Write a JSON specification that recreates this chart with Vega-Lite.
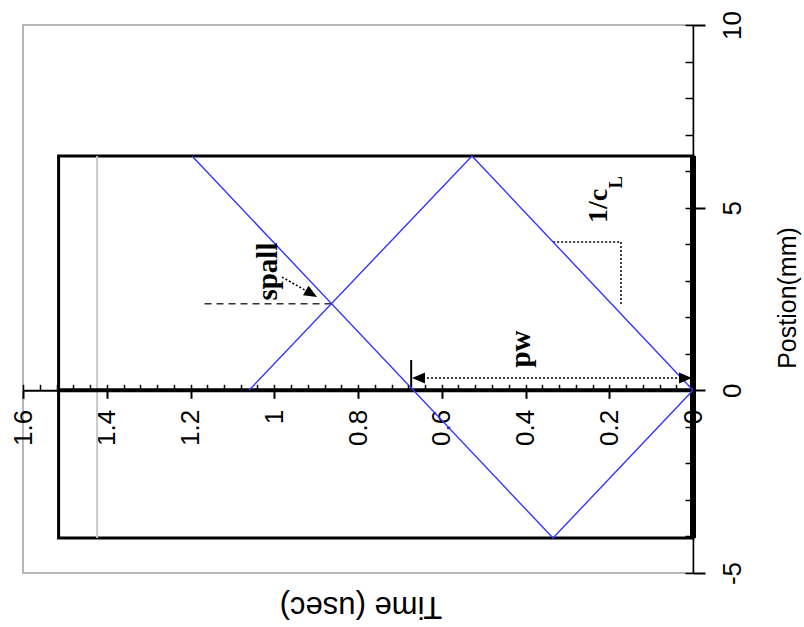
{
  "$schema": "https://vega.github.io/schema/vega-lite/v6.json",
  "width": 670,
  "height": 548,
  "autosize": {"type": "none"},
  "padding": {"left": 23, "top": 25, "right": 111, "bottom": 54},
  "background": "white",
  "config": {
    "view": {"stroke": "#a0a0a0", "strokeWidth": 1.5},
    "axis": {"grid": false, "labelColor": "black", "titleColor": "black", "tickColor": "black", "domainColor": "black"}
  },
  "datasets": {
    "waves": [
      {"wave": "a", "i": 0, "t": 0, "p": 0},
      {"wave": "a", "i": 1, "t": 0.3343, "p": -4.043},
      {"wave": "a", "i": 2, "t": 1.1964, "p": 6.414},
      {"wave": "b", "i": 0, "t": 0, "p": 0},
      {"wave": "b", "i": 1, "t": 0.5278, "p": 6.414},
      {"wave": "b", "i": 2, "t": 1.0603, "p": 0}
    ],
    "plate": [
      {"t": 0, "t2": 1.515, "p": -4.043, "p2": 6.414}
    ],
    "segments": [
      {"kind": "base", "t": 0, "p": 0, "t2": 1.515, "p2": 0},
      {"kind": "face", "t": 0, "p": -4.043, "t2": 0, "p2": 6.414},
      {"kind": "window", "t": 1.423, "p": -4.043, "t2": 1.423, "p2": 6.414},
      {"kind": "spall", "t": 0.8632, "p": 2.373, "t2": 1.17, "p2": 2.373},
      {"kind": "pointer", "t": 0.9815, "p": 3.101, "t2": 0.9113, "p2": 2.642},
      {"kind": "pw", "t": 0.0, "p": 0.337, "t2": 0.66, "p2": 0.337},
      {"kind": "stop", "t": 0.673, "p": 0, "t2": 0.673, "p2": 0.83},
      {"kind": "slope", "t": 0.334, "p": 4.06, "t2": 0.172, "p2": 4.06},
      {"kind": "slope", "t": 0.172, "p": 4.06, "t2": 0.172, "p2": 2.33}
    ],
    "heads": [
      {"t": 0.6555, "p": 0.337, "dir": 180},
      {"t": 0.0179, "p": 0.337, "dir": 0},
      {"t": 0.9113, "p": 2.642, "dir": 30}
    ],
    "notes": [
      {"label": "spall", "t": 0.9934, "p": 3.252},
      {"label": "pw", "t": 0.389, "p": 1.131},
      {"label": "1/c", "t": 0.2054, "p": 4.58},
      {"label": "L", "t": 0.1696, "p": 5.53}
    ]
  },
  "encoding": {
    "x": {"field": "t", "type": "quantitative", "scale": {"domain": [0, 1.6], "reverse": true, "nice": false, "zero": false}, "axis": null},
    "y": {"field": "p", "type": "quantitative", "scale": {"domain": [-5, 10], "nice": false, "zero": false}, "axis": null}
  },
  "resolve": {"axis": {"x": "independent", "y": "independent"}},
  "layer": [
    {
      "data": {"name": "plate"},
      "mark": {"type": "rect", "fill": "white", "fillOpacity": 0, "stroke": "black", "strokeWidth": 3},
      "encoding": {
        "x": {
          "field": "t", "type": "quantitative",
          "scale": {"domain": [0, 1.6], "reverse": true, "nice": false, "zero": false},
          "axis": {
            "orient": "bottom", "offset": -182.7,
            "values": [0, 0.2, 0.4, 0.6, 0.8, 1, 1.2, 1.4, 1.6],
            "format": "~g",
            "domainWidth": 2, "tickWidth": 2, "tickSize": 8,
            "labelAngle": 270, "labelAlign": "right", "labelBaseline": "middle",
            "labelPadding": 11, "labelFlush": false, "labelOverlap": false, "labelBound": false,
            "labelFont": "Liberation Sans", "labelFontSize": 26,
            "title": "Time (usec)", "titleAngle": 180, "titleX": 337.5, "titleY": 215,
            "titleAlign": "center", "titleBaseline": "middle",
            "titleFont": "Liberation Sans", "titleFontSize": 31, "titleFontWeight": "normal"
          }
        },
        "x2": {"field": "t2"},
        "y": {
          "field": "p", "type": "quantitative",
          "scale": {"domain": [-5, 10], "nice": false, "zero": false},
          "axis": {
            "orient": "right",
            "values": [-5, 0, 5, 10],
            "format": "d",
            "labelExpr": "replace(datum.label, '\u2212', '-')",
            "domainWidth": 1.5, "tickWidth": 2, "tickSize": 12,
            "labelAngle": 270, "labelAlign": "center", "labelBaseline": "top",
            "labelPadding": 14, "labelFlush": false, "labelOverlap": false, "labelBound": false,
            "labelFont": "Liberation Sans", "labelFontSize": 26,
            "title": "Postion(mm)", "titleAngle": 270, "titleX": 94.5, "titleY": 272.5,
            "titleAlign": "center", "titleBaseline": "middle",
            "titleFont": "Liberation Sans", "titleFontSize": 25, "titleFontWeight": "normal"
          }
        },
        "y2": {"field": "p2"}
      }
    },
    {
      "data": {"name": "segments"},
      "transform": [{"filter": "datum.kind == 'window'"}],
      "mark": {"type": "rule", "color": "#c8c8c8", "strokeWidth": 2},
      "encoding": {
        "x": {
          "field": "t", "type": "quantitative",
          "scale": {"domain": [0, 1.6], "reverse": true, "nice": false, "zero": false},
          "axis": {
            "orient": "bottom", "offset": -182.7,
            "values": [0, 0.04, 0.08, 0.12, 0.16, 0.2, 0.24, 0.28, 0.32, 0.36, 0.4, 0.44, 0.48, 0.52, 0.56, 0.6, 0.64, 0.68, 0.72, 0.76, 0.8, 0.84, 0.88, 0.92, 0.96, 1, 1.04, 1.08, 1.12, 1.16, 1.2, 1.24, 1.28, 1.32, 1.36, 1.4, 1.44, 1.48, 1.52, 1.56, 1.6],
            "tickSize": -6, "tickWidth": 1.5,
            "labels": false, "domain": false, "title": null
          }
        },
        "x2": {"field": "t2"},
        "y": {
          "field": "p", "type": "quantitative",
          "scale": {"domain": [-5, 10], "nice": false, "zero": false},
          "axis": {
            "orient": "right",
            "values": [-5, -4, -3, -2, -1, 0, 1, 2, 3, 4, 5, 6, 7, 8, 9, 10],
            "tickSize": -8, "tickWidth": 1.5,
            "labels": false, "domain": false, "title": null
          }
        },
        "y2": {"field": "p2"}
      }
    },
    {
      "data": {"name": "segments"},
      "transform": [{"filter": "datum.kind == 'base'"}],
      "mark": {"type": "rule", "color": "black", "strokeWidth": 4},
      "encoding": {"x2": {"field": "t2"}, "y2": {"field": "p2"}}
    },
    {
      "data": {"name": "segments"},
      "transform": [{"filter": "datum.kind == 'face'"}],
      "mark": {"type": "rule", "color": "black", "strokeWidth": 6},
      "encoding": {"x2": {"field": "t2"}, "y2": {"field": "p2"}}
    },
    {
      "data": {"name": "segments"},
      "transform": [{"filter": "datum.kind == 'spall'"}],
      "mark": {"type": "rule", "color": "#333333", "strokeWidth": 1.5, "strokeDash": [7, 5]},
      "encoding": {"x2": {"field": "t2"}, "y2": {"field": "p2"}}
    },
    {
      "data": {"name": "segments"},
      "transform": [{"filter": "datum.kind == 'pointer' || datum.kind == 'pw' || datum.kind == 'slope'"}],
      "mark": {"type": "rule", "color": "black", "strokeWidth": 1.5, "strokeDash": [2, 2]},
      "encoding": {"x2": {"field": "t2"}, "y2": {"field": "p2"}}
    },
    {
      "data": {"name": "segments"},
      "transform": [{"filter": "datum.kind == 'stop'"}],
      "mark": {"type": "rule", "color": "black", "strokeWidth": 2},
      "encoding": {"x2": {"field": "t2"}, "y2": {"field": "p2"}}
    },
    {
      "data": {"name": "waves"},
      "mark": {"type": "line", "color": "#3535ff", "strokeWidth": 1.4},
      "encoding": {
        "detail": {"field": "wave", "type": "nominal"},
        "order": {"field": "i", "type": "quantitative"}
      }
    },
    {
      "data": {"name": "heads"},
      "mark": {"type": "point", "shape": "M1,0L-1,-0.85L-1,0.85Z", "size": 169, "filled": true, "color": "black", "opacity": 1},
      "encoding": {
        "angle": {"field": "dir", "type": "quantitative", "scale": null}
      }
    },
    {
      "data": {"name": "notes"},
      "transform": [{"filter": "datum.label == 'spall' || datum.label == 'pw'"}],
      "mark": {"type": "text", "angle": 270, "align": "center", "baseline": "alphabetic", "font": "Liberation Serif", "fontWeight": "bold", "fontSize": 29, "color": "black"},
      "encoding": {"text": {"field": "label"}}
    },
    {
      "data": {"name": "notes"},
      "transform": [{"filter": "datum.label == '1/c'"}],
      "mark": {"type": "text", "angle": 270, "align": "left", "baseline": "alphabetic", "font": "Liberation Serif", "fontWeight": "bold", "fontSize": 28, "color": "black"},
      "encoding": {"text": {"field": "label"}}
    },
    {
      "data": {"name": "notes"},
      "transform": [{"filter": "datum.label == 'L'"}],
      "mark": {"type": "text", "angle": 270, "align": "left", "baseline": "alphabetic", "font": "Liberation Serif", "fontWeight": "bold", "fontSize": 18, "color": "black"},
      "encoding": {"text": {"field": "label"}}
    }
  ]
}
